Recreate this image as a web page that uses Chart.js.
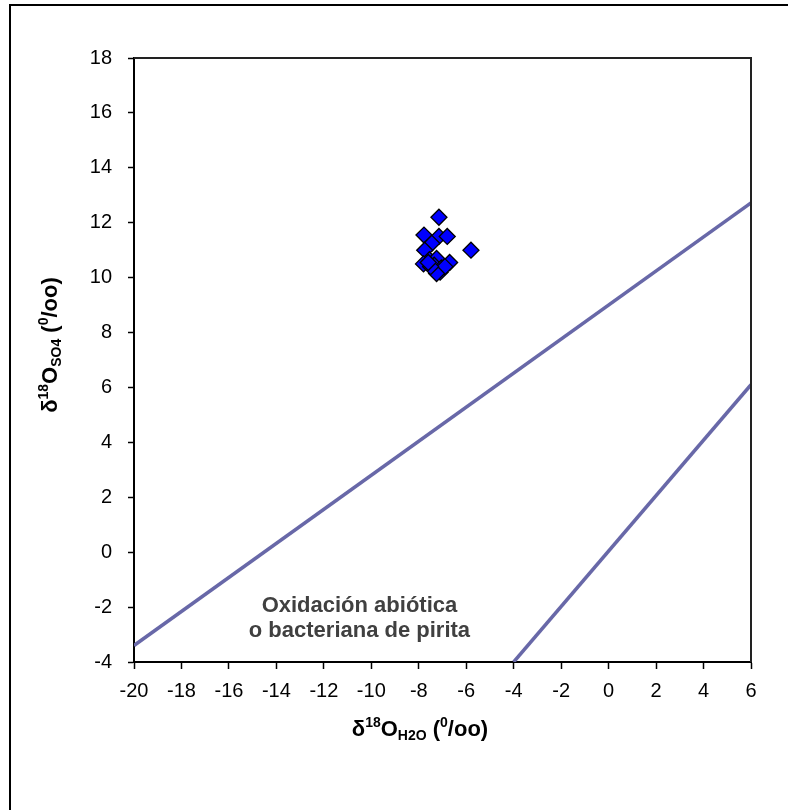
<!DOCTYPE html>
<html>
<head>
<meta charset="utf-8">
<script src="https://cdn.jsdelivr.net/npm/chart.js@4/dist/chart.umd.min.js"></script>
<style>
  html, body { margin: 0; padding: 0; background: #fff; }
  #wrap { width: 788px; height: 810px; position: relative; }
</style>
</head>
<body>
<div id="wrap"><canvas id="c" width="788" height="810"></canvas></div>
<script>
// Sample measurements: δ18O of water vs δ18O of dissolved sulfate (‰)
const waterO18 = [-7.15, -7.78, -7.15, -6.80, -7.45, -7.75, -5.80,
                  -7.55, -7.25, -7.80, -7.35, -7.05, -7.10, -6.70,
                  -6.90, -7.25, -7.50, -7.60];
const sulfateO18 = [12.20, 11.55, 11.50, 11.50, 11.25, 11.00, 11.00,
                    10.65, 10.70, 10.50, 10.45, 10.35, 10.20, 10.55,
                    10.40, 10.15, 10.40, 10.55];

// Reference lines (endpoints in ‰)
const upperLineX = [-20, 6];
const upperLineY = [-3.4, 12.72];
const lowerLineX = [-4, 6];
const lowerLineY = [-4, 6.1];

// Axis ranges and tick spacing
const xRange = [-20, 6];
const yRange = [-4, 18];
const tickStep = 2;

// Text
const noteLines = ['Oxidación abiótica', 'o bacteriana de pirita'];
const notePos = { x: -10.5, y: -2.18 };

const FONT = '"Liberation Sans", Arial, Helvetica, sans-serif';

function toPoints(xs, ys) { return xs.map((x, i) => ({ x, y: ys[i] })); }

// Draw a sequence of text runs (with super/subscripts) centred on x
function drawRuns(ctx, runs, x, y) {
  let total = 0;
  runs.forEach(r => {
    ctx.font = `bold ${r.size}px ${FONT}`;
    r.w = ctx.measureText(r.t).width;
    total += r.w;
  });
  let cx = x - total / 2;
  ctx.textAlign = 'left';
  ctx.textBaseline = 'alphabetic';
  runs.forEach(r => {
    ctx.font = `bold ${r.size}px ${FONT}`;
    ctx.fillText(r.t, cx, y + r.dy);
    cx += r.w;
  });
}

function titleRuns(sub) {
  return [
    { t: 'δ', size: 22, dy: 0 },
    { t: '18', size: 14, dy: -9 },
    { t: 'O', size: 22, dy: 0 },
    { t: sub, size: 14, dy: 4 },
    { t: ' (', size: 22, dy: 0 },
    { t: '0', size: 14, dy: -9 },
    { t: '/oo)', size: 22, dy: 0 }
  ];
}

const decorations = {
  id: 'decorations',
  afterDraw(chart) {
    const { ctx, chartArea: a, scales } = chart;
    ctx.save();

    // outer frame (top and left edges)
    ctx.strokeStyle = '#000';
    ctx.lineWidth = 2;
    ctx.beginPath();
    ctx.moveTo(10, 810);
    ctx.lineTo(10, 5);
    ctx.lineTo(788, 5);
    ctx.stroke();

    // top and right edges of the plot area
    ctx.strokeStyle = '#222';
    ctx.lineWidth = 2;
    ctx.beginPath();
    ctx.moveTo(a.left, a.top);
    ctx.lineTo(a.right, a.top);
    ctx.lineTo(a.right, a.bottom);
    ctx.stroke();

    // annotation inside the plot
    ctx.fillStyle = '#404040';
    ctx.font = `bold 22px ${FONT}`;
    ctx.textAlign = 'center';
    ctx.textBaseline = 'alphabetic';
    const nx = scales.x.getPixelForValue(notePos.x);
    const ny = scales.y.getPixelForValue(notePos.y);
    noteLines.forEach((t, i) => ctx.fillText(t, nx, ny + i * 25));

    // axis titles
    ctx.fillStyle = '#000';
    drawRuns(ctx, titleRuns('H2O'), 420, 736);
    ctx.translate(57, 345);
    ctx.rotate(-Math.PI / 2);
    drawRuns(ctx, titleRuns('SO4'), 0, 0);

    ctx.restore();
  }
};

const lineStyle = {
  type: 'line',
  showLine: true,
  pointRadius: 0,
  borderColor: '#6868A8',
  borderWidth: 3.5,
  fill: false
};

new Chart(document.getElementById('c'), {
  type: 'scatter',
  data: {
    datasets: [
      {
        label: 'Muestras',
        data: toPoints(waterO18, sulfateO18),
        pointStyle: 'rectRot',
        pointRadius: 8,
        backgroundColor: '#0000FF',
        borderColor: '#000',
        borderWidth: 1.3,
        order: 0
      },
      Object.assign({ label: 'Línea superior', data: toPoints(upperLineX, upperLineY), order: 1 }, lineStyle),
      Object.assign({ label: 'Línea inferior', data: toPoints(lowerLineX, lowerLineY), order: 1 }, lineStyle)
    ]
  },
  options: {
    responsive: false,
    animation: false,
    layout: { padding: { top: 58, right: 37, left: 0, bottom: 0 } },
    plugins: { legend: { display: false }, tooltip: { enabled: false } },
    scales: {
      x: {
        type: 'linear',
        min: xRange[0], max: xRange[1],
        ticks: { stepSize: tickStep, color: '#000', font: { size: 20, family: FONT }, padding: 10, maxRotation: 0 },
        grid: { drawOnChartArea: false, color: '#000', tickLength: 7, tickWidth: 1.5 },
        border: { color: '#000', width: 2 },
        afterFit(s) { s.height = 148; }
      },
      y: {
        type: 'linear',
        min: yRange[0], max: yRange[1],
        ticks: { stepSize: tickStep, color: '#000', font: { size: 20, family: FONT }, padding: 16 },
        grid: { drawOnChartArea: false, color: '#000', tickLength: 6, tickWidth: 1.5 },
        border: { color: '#000', width: 2 },
        afterFit(s) { s.width = 134; }
      }
    }
  },
  plugins: [decorations]
});
</script>
</body>
</html>
